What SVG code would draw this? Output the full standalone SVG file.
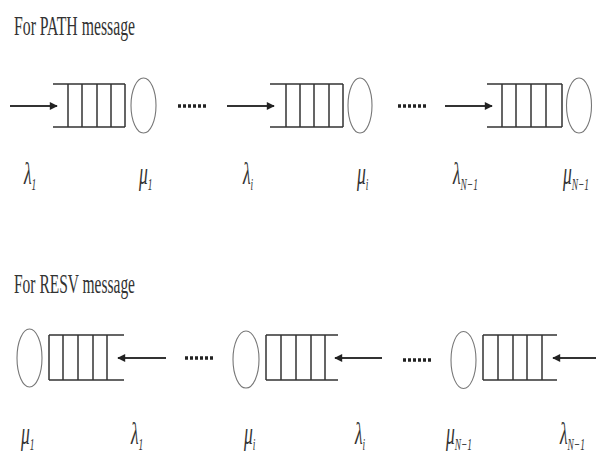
<svg xmlns="http://www.w3.org/2000/svg" width="596" height="460" viewBox="0 0 596 460">
  <style>
    .title { font-family: "Liberation Serif", "Times New Roman", serif; font-size: 28px; fill: #333; }
    .sym { font-family: "Liberation Serif", "Times New Roman", serif; font-style: italic; font-size: 32px; fill: #333; }
    .sub { font-size: 17px; }
    .q { stroke: #333; stroke-width: 1.5; fill: none; }
    .srv { stroke: #777; stroke-width: 1.1; fill: #fff; }
    .arr { stroke: #333; stroke-width: 2; fill: none; }
    .dots { stroke: #222; stroke-width: 3.5; stroke-dasharray: 3 2; }
  </style>
  <defs>
    <marker id="head" viewBox="0 0 10 10" refX="9" refY="5" markerWidth="4.5" markerHeight="4" orient="auto" markerUnits="strokeWidth">
      <path d="M0,0 L10,5 L0,10 z" fill="#222"/>
    </marker>
  </defs>

  <rect width="596" height="460" fill="#fff"/>

  <!-- Section headings -->
  <text class="title" x="14" y="35" textLength="121" lengthAdjust="spacingAndGlyphs">For PATH message</text>
  <text class="title" x="14" y="293" textLength="121" lengthAdjust="spacingAndGlyphs">For RESV message</text>

  <!-- PATH direction: arrivals enter from the left, server on the right -->
  <g id="path-q1">
    <path class="q" d="M53,84 H125 M53,127 H125 M68,84 V127 M82,84 V127 M97,84 V127 M111,84 V127 M125,84 V127"/>
    <ellipse class="srv" cx="143.5" cy="105.5" rx="12.5" ry="27.5"/>
  </g>
  <g id="path-q2">
    <path class="q" d="M270,84 H343 M270,127 H343 M286,84 V127 M300,84 V127 M314,84 V127 M329,84 V127 M343,84 V127"/>
    <ellipse class="srv" cx="360" cy="105.5" rx="12" ry="27.5"/>
  </g>
  <g id="path-q3">
    <path class="q" d="M487,84 H562 M487,127 H562 M502,84 V127 M516,84 V127 M531,84 V127 M546,84 V127 M562,84 V127"/>
    <ellipse class="srv" cx="579" cy="105.5" rx="12.5" ry="27.5"/>
  </g>

  <!-- RESV direction: arrivals enter from the right, server on the left -->
  <g id="resv-q1">
    <ellipse class="srv" cx="29.5" cy="358" rx="12.5" ry="29"/>
    <path class="q" d="M49,335 H124 M49,380 H124 M49,335 V380 M63,335 V380 M78,335 V380 M93,335 V380 M107,335 V380"/>
  </g>
  <g id="resv-q2">
    <ellipse class="srv" cx="246" cy="359.5" rx="13" ry="28.5"/>
    <path class="q" d="M266,335 H338 M266,380 H338 M266,335 V380 M281,335 V380 M296,335 V380 M311,335 V380 M325,335 V380"/>
  </g>
  <g id="resv-q3">
    <ellipse class="srv" cx="463.5" cy="360" rx="12.5" ry="28.5"/>
    <path class="q" d="M483,335 H557 M483,380 H557 M483,335 V380 M498,335 V380 M513,335 V380 M527,335 V380 M542,335 V380"/>
  </g>

  <!-- Arrival arrows and ellipsis dots -->
  <g id="connectors">
    <line class="arr" x1="10" y1="106" x2="57" y2="106" marker-end="url(#head)"/>
    <line class="arr" x1="227" y1="106" x2="274" y2="106" marker-end="url(#head)"/>
    <line class="arr" x1="445" y1="106" x2="492" y2="106" marker-end="url(#head)"/>
    <line class="dots" x1="178" y1="106" x2="208" y2="106"/>
    <line class="dots" x1="398" y1="106" x2="428" y2="106"/>

    <line class="arr" x1="166" y1="358" x2="118" y2="358" marker-end="url(#head)"/>
    <line class="arr" x1="382" y1="358" x2="335" y2="358" marker-end="url(#head)"/>
    <line class="arr" x1="596" y1="358" x2="553" y2="358" marker-end="url(#head)"/>
    <line class="dots" x1="185" y1="358" x2="213" y2="358"/>
    <line class="dots" x1="403" y1="360" x2="433" y2="360"/>
  </g>

  <!-- Rate labels -->
  <g id="labels-path">
    <text class="sym" transform="translate(24,184) scale(0.55,1)">λ<tspan class="sub" dy="6">1</tspan></text>
    <text class="sym" transform="translate(139,184) scale(0.55,1)">μ<tspan class="sub" dy="6">1</tspan></text>
    <text class="sym" transform="translate(243,184) scale(0.55,1)">λ<tspan class="sub" dy="6">i</tspan></text>
    <text class="sym" transform="translate(357,184) scale(0.55,1)">μ<tspan class="sub" dy="6">i</tspan></text>
    <text class="sym" transform="translate(453,184) scale(0.55,1)">λ<tspan class="sub" dy="6">N−1</tspan></text>
    <text class="sym" transform="translate(563,184) scale(0.55,1)">μ<tspan class="sub" dy="6">N−1</tspan></text>
  </g>
  <g id="labels-resv">
    <text class="sym" transform="translate(21,444) scale(0.55,1)">μ<tspan class="sub" dy="6">1</tspan></text>
    <text class="sym" transform="translate(131,444) scale(0.55,1)">λ<tspan class="sub" dy="6">1</tspan></text>
    <text class="sym" transform="translate(244,444) scale(0.55,1)">μ<tspan class="sub" dy="6">i</tspan></text>
    <text class="sym" transform="translate(355,444) scale(0.55,1)">λ<tspan class="sub" dy="6">i</tspan></text>
    <text class="sym" transform="translate(446,444) scale(0.55,1)">μ<tspan class="sub" dy="6">N−1</tspan></text>
    <text class="sym" transform="translate(560,444) scale(0.55,1)">λ<tspan class="sub" dy="6">N−1</tspan></text>
  </g>
</svg>
